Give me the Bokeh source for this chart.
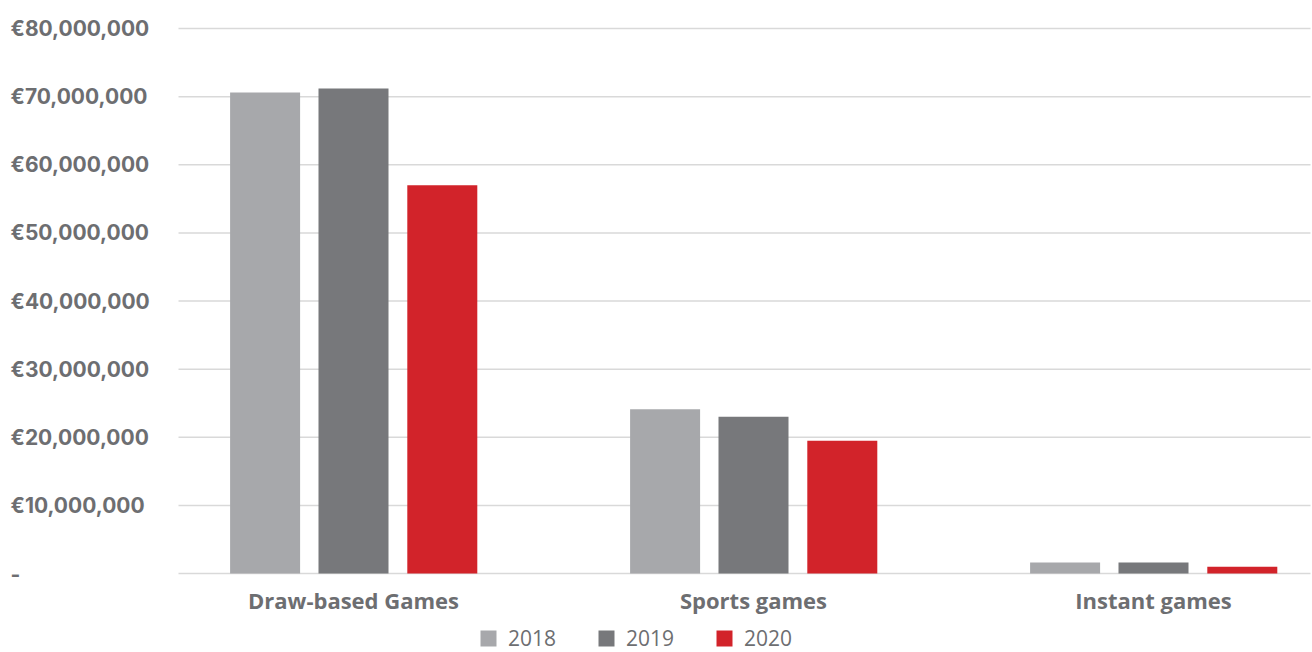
from bokeh.plotting import figure
from bokeh.models import ColumnDataSource, Range1d, Legend, LegendItem
from bokeh.core.properties import value
from bokeh.transform import dodge
from bokeh.embed import file_html
from bokeh.resources import INLINE

categories = ["Draw-based Games", "Sports games", "Instant games"]
years = ["2018", "2019", "2020"]
values_2018 = [70600000, 24100000, 1600000]
values_2019 = [71200000, 23000000, 1600000]
values_2020 = [57000000, 19500000, 1000000]
y_ticks = [0, 10000000, 20000000, 30000000, 40000000, 50000000, 60000000, 70000000, 80000000]
y_tick_labels = ["-", "€10,000,000", "€20,000,000", "€30,000,000", "€40,000,000",
                 "€50,000,000", "€60,000,000", "€70,000,000", "€80,000,000"]
colors = ["#a7a8ab", "#77787b", "#d2232a"]

FONT = "Open Sans"
TEXT_COLOR = "#6d6e71"
W, H = 1312, 652

# pixel geometry (layout only): 400 px per category, 6.8125 px per million
PX_PER_X = 400.0
PX_PER_Y = 6.8125e-6
X0 = 0.5 - 353 / PX_PER_X          # data x at left canvas edge
Y0 = -(H - 573) / PX_PER_Y         # data y at bottom canvas edge

def px_x(px):
    return X0 + px / PX_PER_X

def px_y(py_from_top):
    return Y0 + (H - py_from_top) / PX_PER_Y

xpos = [i + 0.5 for i in range(len(categories))]
source = ColumnDataSource(dict(x=xpos, v2018=values_2018, v2019=values_2019, v2020=values_2020))

p = figure(width=W, height=H, output_backend="svg", toolbar_location=None,
           x_range=Range1d(px_x(0), px_x(W)), y_range=Range1d(px_y(H), px_y(0)),
           min_border=0)
p.outline_line_color = None
p.axis.visible = False
p.grid.visible = False
p.background_fill_color = "white"
p.border_fill_color = "white"

# gridlines
p.segment(x0=[px_x(178)] * len(y_ticks), x1=[px_x(1310)] * len(y_ticks), y0=y_ticks, y1=y_ticks,
          line_color="#d9d9d9", line_width=1.5)

# bars
offsets = [-0.221, 0.0, 0.222]
renderers = []
for yr, col, off in zip(years, colors, offsets):
    r = p.vbar(x=dodge("x", off, range=p.x_range), top="v" + yr, width=0.175, bottom=0,
               source=source, fill_color=col, line_color=None)
    renderers.append(r)

# y tick labels (left aligned)
p.text(x=[px_x(10)] * len(y_ticks), y=y_ticks, text=y_tick_labels,
       text_align="left", text_baseline="middle",
       text_font=value("Inter"), text_font_style="bold", text_font_size="21px",
       text_color=TEXT_COLOR)

# category labels
p.text(x=xpos, y=[px_y(599)] * len(xpos), text=categories,
       text_align="center", text_baseline="middle",
       text_font=value(FONT), text_font_style="bold", text_font_size="22px",
       text_color=TEXT_COLOR)

legend = Legend(items=[LegendItem(label=yr, renderers=[r]) for yr, r in zip(years, renderers)],
                orientation="horizontal", location=(478, 0),
                label_text_font=FONT, label_text_font_size="21px", label_text_color=TEXT_COLOR,
                label_text_line_height=0.9, label_height=20,
                glyph_width=20, glyph_height=20, spacing=40, label_standoff=10,
                border_line_color=None, background_fill_alpha=0, padding=0, margin=0)
p.add_layout(legend)

open("out.html", "w").write(file_html(p, INLINE))
